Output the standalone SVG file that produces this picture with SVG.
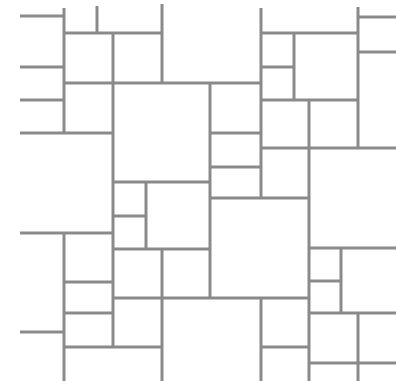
<svg xmlns="http://www.w3.org/2000/svg" width="396" height="381" viewBox="0 0 396 381">
<style>
line{stroke:#8a8a8a;stroke-width:3;stroke-linecap:butt}
</style>
<rect width="396" height="381" fill="#fff"/>
<g id="lines">
<!-- top-left -->
<line x1="20" y1="16" x2="64" y2="16"/>
<line x1="64" y1="8" x2="64" y2="133"/>
<line x1="97" y1="6" x2="97" y2="33"/>
<line x1="162" y1="4" x2="162" y2="83"/>
<line x1="64" y1="33" x2="162" y2="33"/>
<line x1="113" y1="33" x2="113" y2="348"/>
<line x1="20" y1="67" x2="64" y2="67"/>
<line x1="64" y1="83" x2="261" y2="83"/>
<line x1="20" y1="100" x2="64" y2="100"/>
<line x1="20" y1="133" x2="113" y2="133"/>
<line x1="113" y1="182" x2="210" y2="182"/>
<line x1="146" y1="182" x2="146" y2="249"/>
<!-- top-right -->
<line x1="261" y1="8" x2="261" y2="198"/>
<line x1="261" y1="33" x2="358" y2="33"/>
<line x1="294" y1="33" x2="294" y2="100"/>
<line x1="261" y1="67" x2="294" y2="67"/>
<line x1="261" y1="100" x2="358" y2="100"/>
<line x1="309" y1="100" x2="309" y2="381"/>
<line x1="358" y1="7" x2="358" y2="148"/>
<line x1="358" y1="17" x2="396" y2="17"/>
<line x1="358" y1="52" x2="396" y2="52"/>
<line x1="261" y1="148" x2="396" y2="148"/>
<line x1="210" y1="83" x2="210" y2="298"/>
<line x1="210" y1="133" x2="261" y2="133"/>
<line x1="210" y1="167" x2="261" y2="167"/>
<line x1="210" y1="198" x2="309" y2="198"/>
<!-- bottom-left -->
<line x1="113" y1="216" x2="146" y2="216"/>
<line x1="20" y1="233" x2="113" y2="233"/>
<line x1="64" y1="233" x2="64" y2="381"/>
<line x1="113" y1="249" x2="210" y2="249"/>
<line x1="162" y1="249" x2="162" y2="381"/>
<line x1="64" y1="282" x2="113" y2="282"/>
<line x1="113" y1="298" x2="309" y2="298"/>
<line x1="64" y1="313" x2="113" y2="313"/>
<line x1="20" y1="332" x2="64" y2="332"/>
<line x1="64" y1="347" x2="162" y2="347"/>
<!-- bottom-right -->
<line x1="309" y1="248" x2="396" y2="248"/>
<line x1="341" y1="248" x2="341" y2="313"/>
<line x1="309" y1="281" x2="341" y2="281"/>
<line x1="309" y1="313" x2="396" y2="313"/>
<line x1="358" y1="313" x2="358" y2="381"/>
<line x1="261" y1="298" x2="261" y2="381"/>
<line x1="261" y1="347" x2="309" y2="347"/>
<line x1="309" y1="363" x2="396" y2="363"/>
</g>
</svg>
